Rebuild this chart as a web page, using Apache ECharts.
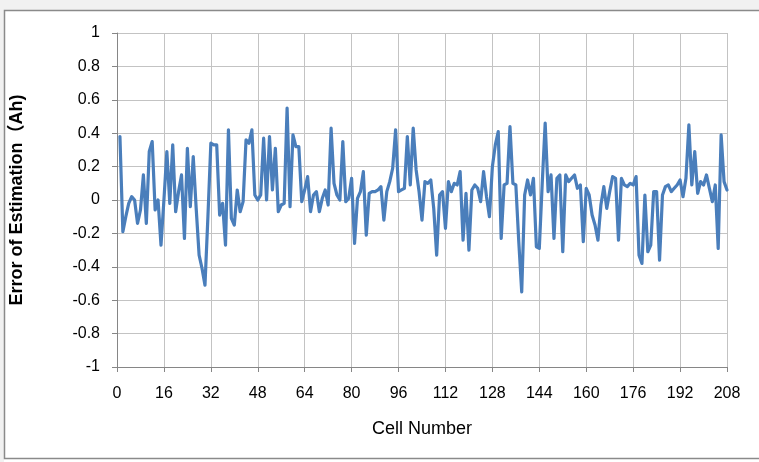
<!DOCTYPE html>
<html>
<head>
<meta charset="utf-8">
<script src="https://cdn.jsdelivr.net/npm/echarts@6/dist/echarts.min.js"></script>
<style>
  html, body { margin: 0; padding: 0; background: #ffffff; }
  #chart { width: 759px; height: 462px; }
</style>
</head>
<body>
<div id="chart"></div>
<script>
// Estimation error per cell (Ah), cells 1..208
const cellNumbers = [
  1,2,3,4,5,6,7,8,9,10,11,12,13,14,15,16,17,18,19,20,
  21,22,23,24,25,26,27,28,29,30,31,32,33,34,35,36,37,38,39,40,
  41,42,43,44,45,46,47,48,49,50,51,52,53,54,55,56,57,58,59,60,
  61,62,63,64,65,66,67,68,69,70,71,72,73,74,75,76,77,78,79,80,
  81,82,83,84,85,86,87,88,89,90,91,92,93,94,95,96,97,98,99,100,
  101,102,103,104,105,106,107,108,109,110,111,112,113,114,115,116,117,118,119,120,
  121,122,123,124,125,126,127,128,129,130,131,132,133,134,135,136,137,138,139,140,
  141,142,143,144,145,146,147,148,149,150,151,152,153,154,155,156,157,158,159,160,
  161,162,163,164,165,166,167,168,169,170,171,172,173,174,175,176,177,178,179,180,
  181,182,183,184,185,186,187,188,189,190,191,192,193,194,195,196,197,198,199,200,
  201,202,203,204,205,206,207,208
];

const estimationError = [
  0.38,-0.19,-0.10,-0.02,0.02,0.00,-0.14,-0.06,0.15,-0.14,
  0.29,0.35,-0.06,0.00,-0.27,0.00,0.29,-0.02,0.33,-0.07,
  0.05,0.15,-0.23,0.31,-0.04,0.26,-0.05,-0.33,-0.41,-0.51,
  -0.10,0.34,0.33,0.33,-0.09,-0.02,-0.27,0.42,-0.11,-0.15,
  0.06,-0.07,-0.01,0.36,0.34,0.42,0.03,0.00,0.03,0.37,
  0.00,0.38,0.06,0.31,-0.07,-0.03,-0.02,0.55,-0.04,0.39,
  0.32,0.32,-0.01,0.06,0.14,-0.07,0.03,0.05,-0.07,0.01,
  0.06,-0.03,0.43,0.10,0.03,0.00,0.35,-0.01,0.01,0.13,
  -0.26,0.01,0.05,0.17,-0.21,0.04,0.05,0.05,0.06,0.08,
  -0.12,0.05,0.11,0.19,0.42,0.05,0.06,0.07,0.38,0.09,
  0.43,0.18,0.05,-0.12,0.11,0.10,0.12,-0.05,-0.33,0.03,
  0.05,-0.17,0.11,0.05,0.10,0.09,0.17,-0.24,0.04,-0.30,
  0.06,0.09,0.07,-0.01,0.17,0.02,-0.10,0.20,0.33,0.41,
  -0.23,0.09,0.10,0.44,0.10,0.09,-0.25,-0.55,0.03,0.12,
  0.03,0.13,-0.28,-0.29,0.10,0.46,0.05,0.15,-0.23,0.13,
  0.15,-0.31,0.15,0.11,0.13,0.15,0.07,0.09,-0.25,0.07,
  0.03,-0.09,-0.15,-0.24,-0.03,0.08,-0.05,0.05,0.14,0.13,
  -0.24,0.13,0.09,0.08,0.10,0.09,0.14,-0.33,-0.38,0.03,
  -0.31,-0.27,0.05,0.05,-0.36,0.03,0.08,0.09,0.05,0.07,
  0.09,0.12,0.02,0.13,0.45,0.09,0.29,0.04,0.11,0.09,
  0.15,0.07,-0.01,0.09,-0.29,0.39,0.11,0.06
];

const xTickStep = 16;
const yTickStep = 0.2;

const labelFont = "'Liberation Sans', 'Noto Sans', sans-serif";
const titleFont = "'Liberation Sans', 'Noto Sans CJK SC', sans-serif";

const chart = echarts.init(document.getElementById('chart'), null, { renderer: 'canvas' });

chart.setOption({
  backgroundColor: '#ffffff',
  animation: false,
  graphic: [
    { type: 'rect', shape: { x: 0, y: 0, width: 759, height: 10 }, style: { fill: '#f1f1f1' }, silent: true, z: -10 },
    { type: 'rect', shape: { x: 0, y: 0, width: 4, height: 462 }, style: { fill: '#f1f1f1' }, silent: true, z: -10 },
    { type: 'rect', shape: { x: 4.5, y: 10.5, width: 760, height: 448 }, style: { fill: 'none', stroke: '#8a8a8a', lineWidth: 1.5 }, silent: true, z: -5 }
  ],
  grid: { left: 117, right: 32, top: 33, bottom: 95, containLabel: false },
  xAxis: {
    type: 'value',
    min: 0,
    max: 208,
    interval: xTickStep,
    name: 'Cell Number',
    nameLocation: 'middle',
    nameGap: 53,
    nameTextStyle: { fontFamily: labelFont, fontSize: 18, color: '#000000' },
    axisLine: { onZero: false, lineStyle: { color: '#868686', width: 1 } },
    axisTick: { show: true, length: 5, lineStyle: { color: '#868686' } },
    axisLabel: { fontFamily: labelFont, fontSize: 16, color: '#000000', margin: 19 },
    splitLine: { show: true, lineStyle: { color: '#c3c3c3', width: 1 } }
  },
  yAxis: {
    type: 'value',
    min: -1,
    max: 1,
    interval: yTickStep,
    name: 'Error of Estimation（Ah)',
    nameLocation: 'middle',
    nameGap: 91,
    nameTextStyle: { fontFamily: titleFont, fontSize: 18, fontWeight: 'bold', color: '#000000' },
    axisLine: { show: true, onZero: false, lineStyle: { color: '#868686', width: 1 } },
    axisTick: { show: true, length: 5, lineStyle: { color: '#868686' } },
    axisLabel: {
      fontFamily: labelFont, fontSize: 16, color: '#000000', margin: 17,
      formatter: function (v) { return String(Math.round(v * 10) / 10); }
    },
    splitLine: { show: true, lineStyle: { color: '#c3c3c3', width: 1 } }
  },
  series: [{
    type: 'line',
    data: cellNumbers.map((c, i) => [c, estimationError[i]]),
    showSymbol: false,
    lineStyle: { color: '#4a7ebb', width: 3.2, join: 'round', cap: 'round' },
    silent: true
  }]
});
</script>
</body>
</html>
